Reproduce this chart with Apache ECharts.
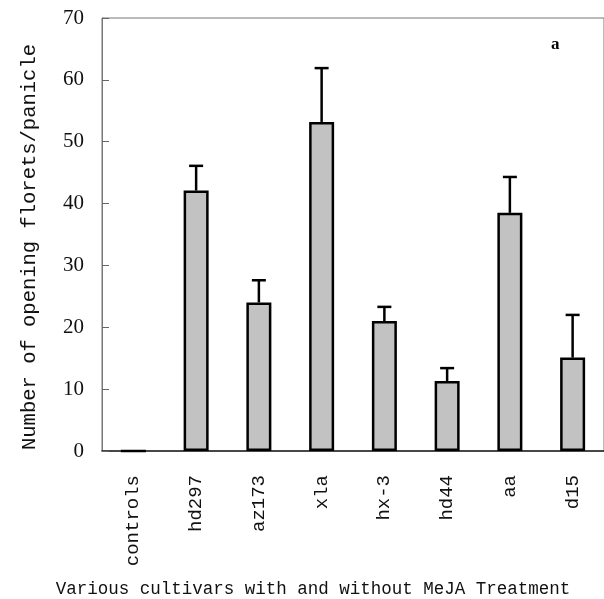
<!DOCTYPE html>
<html>
<head>
<meta charset="utf-8">
<script src="https://cdn.jsdelivr.net/npm/echarts@6/dist/echarts.min.js"></script>
<style>
  html, body { margin: 0; padding: 0; background: #fff; overflow: hidden; }
  #chart { width: 604px; height: 599px; }
</style>
</head>
<body>
<div id="chart"></div>
<script>
  // 品种名称
  var categories = ['controls', 'hd297', 'az173', 'xla', 'hx-3', 'hd44', 'aa', 'd15'];
  // 平均值
  var means = [0, 42.1, 24.0, 53.2, 21.0, 11.3, 38.5, 15.1];
  // 误差线上端
  var errTops = [0, 46.1, 27.6, 61.9, 23.3, 13.4, 44.3, 22.0];
  var yTicks = [0, 10, 20, 30, 40, 50, 60, 70];

  var monoFont = '"Liberation Mono", "DejaVu Sans Mono", monospace';
  var serifFont = '"Liberation Serif", "DejaVu Serif", serif';

  var errData = categories.map(function (c, i) {
    return [i, means[i], errTops[i]];
  });

  var myChart = echarts.init(document.getElementById('chart'), null, { renderer: 'canvas', width: 604, height: 599 });

  var option = {
    backgroundColor: '#ffffff',
    animation: false,
    grid: {
      left: 102,
      top: 18,
      width: 510,
      height: 433,
      show: true,
      borderColor: '#777',
      borderWidth: 1
    },
    xAxis: {
      type: 'category',
      data: categories,
      axisLine: { lineStyle: { color: '#222', width: 1.5 } },
      axisTick: { inside: true, length: 5, lineStyle: { color: '#666' } },
      axisLabel: {
        rotate: 90,
        margin: 24,
        fontFamily: monoFont,
        fontSize: 19,
        color: '#111'
      }
    },
    yAxis: {
      type: 'value',
      min: yTicks[0],
      max: yTicks[yTicks.length - 1],
      interval: 10,
      axisLine: { show: true, lineStyle: { color: '#777', width: 1 } },
      axisTick: { show: true, inside: true, length: 7, lineStyle: { color: '#666' } },
      axisLabel: { fontFamily: serifFont, fontSize: 21, color: '#111', margin: 18 },
      splitLine: { show: false }
    },
    series: [
      {
        type: 'bar',
        data: means,
        barWidth: 25,
        itemStyle: {
          color: '#c2c2c2',
          borderColor: '#000',
          borderWidth: 2.5
        },
        z: 2
      },
      {
        type: 'custom',
        data: errData,
        z: 3,
        renderItem: function (params, api) {
          var x = api.value(0);
          var lo = api.coord([x, api.value(1)]);
          var hi = api.coord([x, api.value(2)]);
          if (api.value(2) <= api.value(1)) {
            return null;
          }
          var cap = 7;
          var st = { stroke: '#000', lineWidth: 2.5 };
          return {
            type: 'group',
            children: [
              { type: 'line', shape: { x1: lo[0], y1: lo[1], x2: hi[0], y2: hi[1] }, style: st },
              { type: 'line', shape: { x1: hi[0] - cap, y1: hi[1], x2: hi[0] + cap, y2: hi[1] }, style: st }
            ]
          };
        }
      }
    ],
    graphic: [
      {
        type: 'text',
        x: 30,
        y: 247,
        rotation: Math.PI / 2,
        style: {
          text: 'Number of opening florets/panicle',
          font: '20.5px ' + monoFont,
          fill: '#111',
          align: 'center',
          verticalAlign: 'middle'
        }
      },
      {
        type: 'text',
        x: 313,
        y: 589,
        style: {
          text: 'Various cultivars with and without MeJA Treatment',
          font: '17.5px ' + monoFont,
          fill: '#111',
          align: 'center',
          verticalAlign: 'middle'
        }
      },
      {
        type: 'text',
        left: 551,
        top: 36,
        style: {
          text: 'a',
          font: 'bold 17px ' + serifFont,
          fill: '#000'
        }
      }
    ]
  };

  myChart.setOption(option);
</script>
</body>
</html>
